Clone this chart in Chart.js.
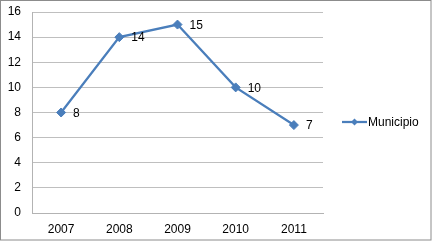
<!DOCTYPE html>
<html>
<head>
<meta charset="utf-8">
<script src="https://cdn.jsdelivr.net/npm/chart.js@4"></script>
<style>
  html, body { margin: 0; padding: 0; background: #fff; }
  #box { position: relative; width: 432px; height: 241px; }
</style>
</head>
<body>
<div id="box"><canvas id="myChart" width="432" height="241"></canvas></div>
<script>
// -----------------------------------------------------------------------------
const years = ["2007", "2008", "2009", "2010", "2011"];
const municipioValues = [8, 14, 15, 10, 7];
const seriesName = "Municipio";
const yTicks = [0, 2, 4, 6, 8, 10, 12, 14, 16];
// -----------------------------------------------------------------------------
const lineColor = "#4a7ebb";
const fontFamily = "'Liberation Sans', Arial, sans-serif";
const ctx = document.getElementById("myChart");

// outer grey frame of the chart
const frame = {
  id: "frame",
  afterDraw(chart) {
    const g = chart.ctx;
    g.save();
    g.strokeStyle = "#8c8c8c";
    g.lineWidth = 1;
    g.strokeRect(0.5, 0.5, chart.width - 1.5, chart.height - 1.5);
    g.restore();
  },
};

// value labels to the right of each point
const pointLabels = {
  id: "pointLabels",
  afterDatasetsDraw(chart) {
    const g = chart.ctx;
    g.save();
    g.font = "12px " + fontFamily;
    g.fillStyle = "#000";
    g.textAlign = "left";
    g.textBaseline = "middle";
    chart.getDatasetMeta(0).data.forEach((pt, i) => {
      g.fillText(String(municipioValues[i]), pt.x + 12, pt.y + 1);
    });
    g.restore();
  },
};

// legend on the right: line with a diamond, then the series name
const sideLegend = {
  id: "sideLegend",
  afterDraw(chart) {
    const g = chart.ctx;
    const x = chart.chartArea.right + 19;
    const y = 122;
    g.save();
    g.strokeStyle = lineColor;
    g.lineWidth = 2.25;
    g.beginPath();
    g.moveTo(x, y);
    g.lineTo(x + 25, y);
    g.stroke();
    g.fillStyle = lineColor;
    g.beginPath();
    g.moveTo(x + 12.5, y - 3.5);
    g.lineTo(x + 16, y);
    g.lineTo(x + 12.5, y + 3.5);
    g.lineTo(x + 9, y);
    g.closePath();
    g.fill();
    g.font = "12px " + fontFamily;
    g.fillStyle = "#000";
    g.textBaseline = "middle";
    g.fillText(seriesName, x + 26, y + 1);
    g.restore();
  },
};

let myChart = new Chart(ctx, {
  type: "line",
  data: {
    labels: years,
    datasets: [
      {
        label: seriesName,
        data: municipioValues,
        borderColor: lineColor,
        backgroundColor: lineColor,
        borderWidth: 2.25,
        pointStyle: "rectRot",
        pointRadius: 4.5,
        pointBorderWidth: 1,
        pointHoverRadius: 4.5,
        tension: 0,
      },
    ],
  },
  options: {
    responsive: false,
    animation: false,
    layout: { padding: { top: 12, left: 0, right: 109, bottom: 0 } },
    plugins: {
      tooltip: { enabled: false },
      legend: { display: false },
    },
    scales: {
      x: {
        offset: true,
        afterFit: (axis) => {
          axis.height = 28;
          axis.paddingLeft = 0;
          axis.paddingRight = 0;
        },
        grid: { display: false, drawTicks: false },
        border: { display: true, color: "#b3b3b3", width: 1 },
        ticks: {
          color: "#000",
          padding: 9,
          font: { family: fontFamily, size: 12 },
        },
      },
      y: {
        min: 0,
        max: 16,
        afterBuildTicks: (axis) => {
          axis.ticks = yTicks.map((v) => ({ value: v }));
        },
        afterFit: (axis) => {
          axis.width = 32;
          axis.paddingTop = 0;
          axis.paddingBottom = 0;
        },
        grid: { color: "#bfbfbf", drawTicks: false },
        border: { display: true, color: "#b3b3b3", width: 1 },
        ticks: {
          color: "#000",
          padding: 11,
          font: { family: fontFamily, size: 12 },
        },
      },
    },
  },
  plugins: [frame, pointLabels, sideLegend],
});
</script>
</body>
</html>
